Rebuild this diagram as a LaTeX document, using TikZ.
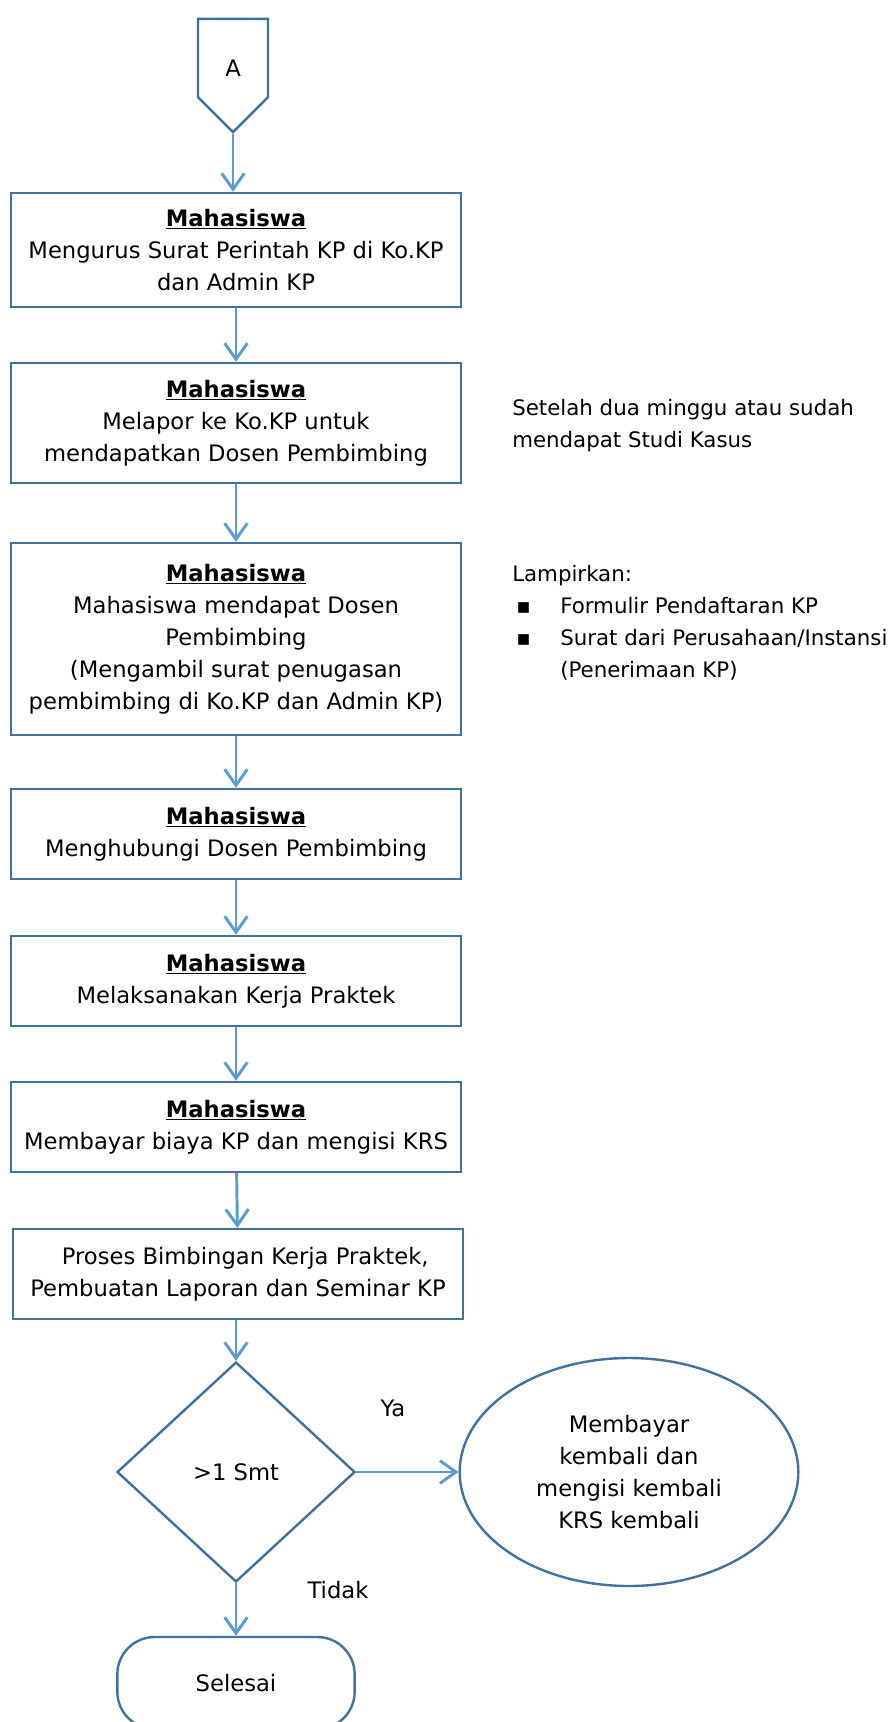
\documentclass[tikz,border=0pt]{standalone}
\usepackage{fontspec}
\setmainfont{DejaVu Sans}
\usepackage{xcolor}
\definecolor{BoxBorder}{RGB}{65,113,156}
\definecolor{FlowArrow}{RGB}{91,155,213}
\usepackage{tikz}
\usetikzlibrary{
  positioning,
  arrows.meta,
  shapes.geometric,
  shapes.symbols
}
\newcommand{\mhs}{\underline{\textbf{Mahasiswa}}}
\newcommand{\bul}{\makebox[36pt][l]{\hspace{3pt}▪}}
\tikzset{
  % Off-page connector
  offpage/.style={
    signal,
    signal to=south,
    signal from=nowhere,
    signal pointer angle=90,
    draw=BoxBorder,
    line width=1.8pt,
    minimum width=52.5pt,
    minimum height=64.5pt,
    inner sep=0pt,
    font=\fontsize{17}{24}\selectfont
  },
  % Process box
  procbox/.style={
    rectangle,
    draw=BoxBorder,
    line width=1.8pt,
    minimum width=337.5pt,
    inner sep=2pt,
    align=center,
    font=\fontsize{17}{24}\selectfont
  },
  % Decision
  decision/.style={
    diamond,
    draw=BoxBorder,
    line width=1.8pt,
    minimum width=178.5pt,
    minimum height=165pt,
    inner sep=0pt,
    font=\fontsize{17}{24}\selectfont
  },
  % Repeat step
  retry/.style={
    ellipse,
    draw=BoxBorder,
    line width=1.8pt,
    minimum width=254pt,
    minimum height=171pt,
    inner sep=0pt,
    align=center,
    font=\fontsize{17}{24}\selectfont
  },
  % Terminator
  terminal/.style={
    rectangle,
    rounded corners=28pt,
    draw=BoxBorder,
    line width=1.8pt,
    minimum width=178pt,
    minimum height=69pt,
    font=\fontsize{17}{24}\selectfont
  },
  % Side note
  note/.style={
    anchor=west,
    align=left,
    inner sep=0pt,
    font=\fontsize{16}{24}\selectfont
  },
  % Branch label
  blabel/.style={
    font=\fontsize{17}{24}\selectfont
  },
  % Flow arrow
  flow/.style={
    draw=FlowArrow,
    line width=2.2pt,
    -{Straight Barb[length=12pt,width=17pt]}
  }
}

\begin{document}
\begin{tikzpicture}[x=0.75pt, y=-0.75pt]
  \useasboundingbox (0,0) rectangle (891,1722);

  % Connector
  \node[offpage] (A) at (233,58) {\raisebox{-14pt}[0pt][0pt]{A}};

  % Steps
  \node[procbox, minimum height=85.5pt] (b1) at (236,250)
    {\mhs\\Mengurus Surat Perintah KP di Ko.KP\\dan Admin KP};
  \node[procbox, minimum height=90pt] (b2) at (236,423)
    {\mhs\\Melapor ke Ko.KP untuk\\mendapatkan Dosen Pembimbing};
  \node[procbox, minimum height=144pt] (b3) at (236,639)
    {\mhs\\Mahasiswa mendapat Dosen\\Pembimbing\\(Mengambil surat penugasan\\pembimbing di Ko.KP dan Admin KP)};
  \node[procbox, minimum height=67.5pt] (b4) at (236,834)
    {\mhs\\Menghubungi Dosen Pembimbing};
  \node[procbox, minimum height=67.5pt] (b5) at (236,981)
    {\mhs\\Melaksanakan Kerja Praktek};
  \node[procbox, minimum height=67.5pt] (b6) at (236,1127)
    {\mhs\\Membayar biaya KP dan mengisi KRS};
  \node[procbox, minimum height=67.5pt] (b7) at (238,1274)
    {\ \ Proses Bimbingan Kerja Praktek,\\Pembuatan Laporan dan Seminar KP};

  % Decision and outcomes
  \node[decision] (d) at (236,1472) {>1 Smt};
  \node[retry] (r) at (629,1472)
    {Membayar\\kembali dan\\mengisi kembali\\KRS kembali};
  \node[terminal] (e) at (236,1683) {Selesai};

  \node[blabel] (ya) at (393,1408) {Ya};
  \node[blabel] (tidak) at (338,1590) {Tidak};

  % Notes
  \node[note] (n1) at (512,426)
    {Setelah dua minggu atau sudah\\mendapat Studi Kasus};
  \node[note] (n2) at (512,623)
    {Lampirkan:\\\bul Formulir Pendaftaran KP\\\bul Surat dari Perusahaan/Instansi\\\hspace{36pt}(Penerimaan KP)};

  % Arrows
  \draw[flow] (A.south) -- (A.south |- b1.north);
  \foreach \from/\to in {b1/b2, b2/b3, b3/b4, b4/b5, b5/b6, b6/b7}
    \draw[flow] (\from) -- (\to);
  \draw[flow] (b7.south -| d.north) -- (d.north);
  \draw[flow] (d) -- (r);
  \draw[flow] (d) -- (e);
\end{tikzpicture}
\end{document}
